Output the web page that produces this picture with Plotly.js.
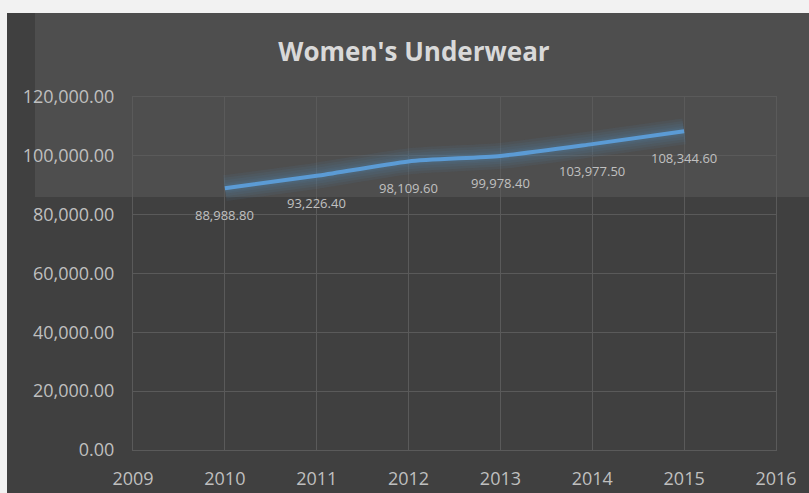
<!DOCTYPE html>
<html>
<head>
<meta charset="utf-8">
<script src="https://cdn.plot.ly/plotly-3.0.1.min.js"></script>
<style>html,body{margin:0;padding:0;background:#404040;}#chart{width:809px;height:493px;}</style>
</head>
<body>
<div id="chart"></div>
<script>
const years = [2010, 2011, 2012, 2013, 2014, 2015];
const sales = [88988.8, 93226.4, 98109.6, 99978.4, 103977.5, 108344.6];
const chartTitle = "Women's Underwear";
const xTicks = [2009, 2010, 2011, 2012, 2013, 2014, 2015, 2016];
const yTicks = [0, 20000, 40000, 60000, 80000, 100000, 120000];

const fmt = v => v.toLocaleString('en-US', {minimumFractionDigits: 2, maximumFractionDigits: 2});
const lineColor = '#5b9bd5';

const glowWidths = [26, 21, 16, 11, 8];
const traces = glowWidths.map(w => ({
  x: years, y: sales, mode: 'lines',
  line: {color: 'rgba(91,155,213,0.07)', width: w, shape: 'spline', smoothing: 0.6},
  hoverinfo: 'skip', showlegend: false
}));
traces.push({x: years, y: sales, mode: 'lines', line: {color: lineColor, width: 4, shape: 'spline', smoothing: 0.6}, showlegend: false});

const annotations = years.map((yr, i) => ({
  x: yr, y: sales[i], xref: 'x', yref: 'y', text: fmt(sales[i]), showarrow: false,
  yshift: -27, font: {family: 'Open Sans, sans-serif', size: 13, color: '#c0c0c0'}
}));

// pixel -> paper helpers for background panels
const L = 133, R = 776, T = 97, B = 450;
const px = p => (p - L) / (R - L);
const py = p => (B - p) / (B - T);

const shapes = [
  {type: 'rect', xref: 'paper', yref: 'paper', x0: px(0), x1: px(820), y0: py(13), y1: py(-10), fillcolor: '#f2f2f2', line: {width: 0}, layer: 'below'},
  {type: 'rect', xref: 'paper', yref: 'paper', x0: px(-10), x1: px(7), y0: py(500), y1: py(-10), fillcolor: '#f2f2f2', line: {width: 0}, layer: 'below'},
  {type: 'rect', xref: 'paper', yref: 'paper', x0: px(35), x1: px(820), y0: py(197), y1: py(13), fillcolor: '#4e4e4e', line: {width: 0}, layer: 'below'}
];

const layout = {
  width: 809, height: 493,
  margin: {l: L, r: 809 - R, t: T, b: 493 - B, pad: 0},
  paper_bgcolor: '#404040',
  plot_bgcolor: 'rgba(0,0,0,0)',
  title: {text: '<b>' + chartTitle + '</b>', x: 414 / 809, xanchor: 'center', y: 1 - 52 / 493, yanchor: 'middle',
          font: {family: 'Open Sans, sans-serif', size: 26, color: '#d9d9d9'}},
  xaxis: {range: [2009, 2016], tickvals: xTicks, ticktext: xTicks.map(String), showgrid: true, gridcolor: '#5a5a5a', gridwidth: 1,
          zeroline: false, showline: true, mirror: true, linecolor: '#5a5a5a', linewidth: 1,
          ticks: 'outside', ticklen: 12, tickcolor: 'rgba(0,0,0,0)',
          tickfont: {family: 'Open Sans, sans-serif', size: 18, color: '#bfbfbf'}},
  yaxis: {range: [0, 120000], tickvals: yTicks, ticktext: yTicks.map(fmt), showgrid: true, gridcolor: '#5a5a5a', gridwidth: 1,
          zeroline: false, showline: true, mirror: true, linecolor: '#5a5a5a', linewidth: 1,
          ticks: 'outside', ticklen: 14, tickcolor: 'rgba(0,0,0,0)',
          tickfont: {family: 'Open Sans, sans-serif', size: 18, color: '#bfbfbf'}},
  shapes: shapes,
  annotations: annotations,
  showlegend: false
};

Plotly.newPlot('chart', traces, layout, {displayModeBar: false, staticPlot: true});
</script>
</body>
</html>
